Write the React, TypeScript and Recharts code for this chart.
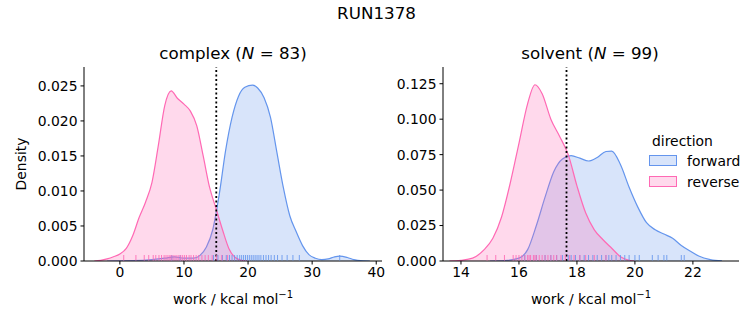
import React from "react"
import {
  Area,
  ComposedChart,
  ReferenceLine,
  Scatter,
  XAxis,
  YAxis,
} from "recharts"

// KDE curves: [work, density]
const complexForward = [
  [-2, 0], [2, 0.00005], [5, 0.0002], [7, 0.0004], [8.5, 0.0006], [10, 0.0004],
  [11.5, 0.0004], [12.5, 0.0008], [13.5, 0.002], [14.5, 0.0045], [15.5, 0.0095],
  [16.5, 0.0158], [17.5, 0.0205], [18.5, 0.0235], [19.5, 0.0248], [20.7, 0.0251],
  [21.5, 0.0247], [22.5, 0.0233], [23.5, 0.0205], [24.5, 0.0155], [25.5, 0.0105],
  [26.5, 0.0065], [27.5, 0.0042], [28.5, 0.0022], [29.5, 0.0009], [30.5, 0.0004],
  [31.5, 0.0002], [32.5, 0.0003], [33.5, 0.0006], [34.3, 0.0007], [35.5, 0.0005],
  [36.5, 0.0002], [38, 0.00003], [39, 0],
]
const complexReverse = [
  [-4, 0], [-3, 0.0001], [-2, 0.0003], [-1, 0.0006], [0, 0.001], [1, 0.0018],
  [2, 0.0036], [3, 0.0062], [4, 0.0084], [5, 0.0112], [6, 0.0165], [7, 0.0222],
  [8, 0.0243], [9, 0.0232], [10, 0.0224], [11, 0.0214], [12, 0.0193], [13, 0.015],
  [14, 0.0105], [15, 0.0075], [16, 0.0045], [17, 0.0018], [18, 0.0005],
  [19, 0.0001], [20, 0],
]
const solventForward = [
  [15.0, 0], [15.5, 0.0003], [16.0, 0.002], [16.3, 0.008], [16.6, 0.025],
  [16.9, 0.045], [17.2, 0.063], [17.5, 0.072], [17.8, 0.0743], [18.1, 0.0725],
  [18.4, 0.0705], [18.7, 0.073], [19.0, 0.0772], [19.2, 0.0775], [19.5, 0.068],
  [19.8, 0.052], [20.1, 0.038], [20.4, 0.027], [20.7, 0.022], [21.0, 0.019],
  [21.3, 0.016], [21.6, 0.011], [21.9, 0.007], [22.2, 0.0035], [22.6, 0.001],
  [23.0, 0.0001],
]
const solventReverse = [
  [13.6, 0], [14.0, 0.0005], [14.4, 0.002], [14.8, 0.008], [15.1, 0.016],
  [15.4, 0.031], [15.7, 0.055], [16.0, 0.083], [16.3, 0.111], [16.55, 0.1243],
  [16.8, 0.118], [17.1, 0.1], [17.4, 0.088], [17.7, 0.075], [18.0, 0.053],
  [18.3, 0.034], [18.6, 0.022], [18.9, 0.015], [19.2, 0.009], [19.5, 0.003],
  [19.8, 0.0005], [20.0, 0],
]

// individual work values (rug)
const complexForwardRug = [
  8.1, 9.4, 14.6, 15.3, 16.0, 16.6, 17.1, 17.5, 17.9, 18.3, 18.7, 19.0, 19.3, 19.6,
  19.9, 20.2, 20.5, 20.8, 21.1, 21.4, 21.7, 22.0, 22.4, 22.8, 23.2, 23.6, 24.1,
  24.6, 25.3, 26.1, 27.0, 28.0, 34.3,
]
const complexReverseRug = [
  0.6, 2.5, 3.8, 4.5, 5.2, 5.6, 6.1, 6.5, 6.9, 7.2, 7.5, 7.8, 8.0, 8.3, 8.6, 8.9,
  9.2, 9.5, 9.8, 10.1, 10.4, 10.8, 11.1, 11.5, 11.9, 12.3, 12.8, 13.3, 13.8, 14.4,
  15.1, 15.9, 16.8,
]
const solventForwardRug = [
  16.2, 16.6, 16.9, 17.1, 17.3, 17.5, 17.7, 17.8, 17.95, 18.1, 18.25, 18.4, 18.55,
  18.7, 18.85, 19.0, 19.1, 19.2, 19.35, 19.5, 19.65, 19.8, 20.0, 20.15, 20.6, 20.8,
  21.0, 21.1, 21.6, 21.7,
]
const solventReverseRug = [
  14.9, 15.2, 15.5, 15.8, 15.9, 16.0, 16.1, 16.2, 16.3, 16.35, 16.4, 16.5, 16.55,
  16.6, 16.7, 16.8, 16.9, 17.0, 17.1, 17.2, 17.3, 17.45, 17.6, 17.75, 17.9, 18.1,
  18.3, 18.6, 19.0,
]

const complexXTicks = [0, 10, 20, 30, 40]
const complexYTicks = [0, 0.005, 0.01, 0.015, 0.02, 0.025]
const solventXTicks = [14, 16, 18, 20, 22]
const solventYTicks = [0, 0.025, 0.05, 0.075, 0.1, 0.125]

const directions = ["forward", "reverse"]
const colors: Record<string, string> = { forward: "#6495ED", reverse: "#FF69B4" }

const FONT = "'DejaVu Sans', sans-serif"
const tickStyle = { fontSize: 13.9, fill: "#000", fontFamily: FONT }

const toCurve = (pts: number[][]) => pts.map(([x, d]) => ({ x, d }))
const toRug = (vals: number[]) => vals.map((x) => ({ x, d: 0 }))

const rugShape = (color: string) => (props: any) => {
  const { cx, cy } = props
  return (
    <line x1={cx} x2={cx} y1={cy - 0.5} y2={cy - 6} stroke={color} strokeOpacity={0.85} strokeWidth={1} />
  )
}

const xLabel = (props: any) => {
  const { viewBox } = props
  const cx = viewBox.x + viewBox.width / 2
  return (
    <text x={cx} y={304} textAnchor="middle" fontSize={13.9} fontFamily={FONT} fill="#000">
      work / kcal mol
      <tspan dy={-6} fontSize={10}>−1</tspan>
    </text>
  )
}

function Panel(props: {
  left: number
  width: number
  margin: { top: number; right: number; bottom: number; left: number }
  xDomain: number[]
  xTicks: number[]
  yDomain: number[]
  yTicks: number[]
  forward: number[][]
  reverse: number[][]
  forwardRug: number[]
  reverseRug: number[]
  refX: number
  showYLabel: boolean
}) {
  const curves: Record<string, number[][]> = { forward: props.forward, reverse: props.reverse }
  const rugs: Record<string, number[]> = { forward: props.forwardRug, reverse: props.reverseRug }
  return (
    <div style={{ position: "absolute", left: props.left, top: 0 }}>
      <ComposedChart width={props.width} height={325} margin={props.margin}>
        <XAxis
          type="number"
          dataKey="x"
          domain={props.xDomain}
          ticks={props.xTicks}
          allowDataOverflow
          height={40}
          tick={tickStyle}
          tickSize={3.5}
          tickMargin={3}
          stroke="#000"
          axisLine={{ stroke: "#000", strokeWidth: 1 }}
          tickLine={{ stroke: "#000", strokeWidth: 1 }}
          label={{ content: xLabel }}
        />
        <YAxis
          type="number"
          dataKey="d"
          domain={props.yDomain}
          ticks={props.yTicks}
          allowDataOverflow
          width={60}
          tick={tickStyle}
          tickSize={3.5}
          tickMargin={3}
          tickFormatter={(v: number) => v.toFixed(3)}
          stroke="#000"
          axisLine={{ stroke: "#000", strokeWidth: 1 }}
          tickLine={{ stroke: "#000", strokeWidth: 1 }}
          label={
            props.showYLabel
              ? {
                  content: () => (
                    <text
                      x={26}
                      y={164}
                      transform="rotate(-90 26 164)"
                      textAnchor="middle"
                      fontSize={13.9}
                      fontFamily={FONT}
                      fill="#000"
                    >
                      Density
                    </text>
                  ),
                }
              : undefined
          }
        />
        {directions.map((dir) => (
          <Area
            key={dir}
            data={toCurve(curves[dir])}
            dataKey="d"
            type="monotone"
            stroke={colors[dir]}
            strokeWidth={1.2}
            fill={colors[dir]}
            fillOpacity={0.25}
            isAnimationActive={false}
            dot={false}
            activeDot={false}
          />
        ))}
        {directions.map((dir) => (
          <Scatter
            key={dir + "-rug"}
            data={toRug(rugs[dir])}
            dataKey="d"
            shape={rugShape(colors[dir])}
            isAnimationActive={false}
          />
        ))}
        <ReferenceLine x={props.refX} stroke="#000" strokeWidth={1.8} strokeDasharray="2 2.5" />
      </ComposedChart>
    </div>
  )
}

export default function App() {
  const title = (text: string, n: number, cx: number) => (
    <div
      style={{
        position: "absolute",
        left: cx - 150,
        width: 300,
        top: 43,
        textAlign: "center",
        fontSize: 16.7,
        fontFamily: FONT,
        lineHeight: "20px",
      }}
    >
      {text} (<i>N</i> = {n})
    </div>
  )
  return (
    <div
      style={{
        position: "absolute",
        left: 0,
        top: 0,
        width: 753,
        height: 325,
        background: "#fff",
        fontFamily: FONT,
        overflow: "hidden",
      }}
    >
      <Panel
        left={0}
        width={400}
        margin={{ top: 67, right: 18, bottom: 24, left: 24 }}
        xDomain={[-5.6, 40.9]}
        xTicks={complexXTicks}
        yDomain={[0, 0.0277]}
        yTicks={complexYTicks}
        forward={complexForward}
        reverse={complexReverse}
        forwardRug={complexForwardRug}
        reverseRug={complexReverseRug}
        refX={15.04}
        showYLabel
      />
      <Panel
        left={380}
        width={373}
        margin={{ top: 67, right: 14, bottom: 24, left: 3 }}
        xDomain={[13.38, 23.59]}
        xTicks={solventXTicks}
        yDomain={[0, 0.1368]}
        yTicks={solventYTicks}
        forward={solventForward}
        reverse={solventReverse}
        forwardRug={solventForwardRug}
        reverseRug={solventReverseRug}
        refX={17.64}
        showYLabel={false}
      />
      <div
        style={{
          position: "absolute",
          left: 0,
          width: 753,
          top: 3,
          textAlign: "center",
          fontSize: 16.7,
          lineHeight: "20px",
        }}
      >
        RUN1378
      </div>
      {title("complex", 83, 233)}
      {title("solvent", 99, 590)}
      <div style={{ position: "absolute", left: 640, top: 132, width: 110, fontSize: 13.9 }}>
        <div style={{ lineHeight: "18px", marginLeft: 12 }}>direction</div>
        {directions.map((dir) => (
          <div key={dir} style={{ display: "flex", alignItems: "center", height: 21 }}>
            <span
              style={{
                display: "inline-block",
                width: 26,
                height: 9,
                marginLeft: 9,
                marginRight: 10,
                border: `1px solid ${colors[dir]}`,
                background: colors[dir] + "40",
              }}
            />
            <span>{dir}</span>
          </div>
        ))}
      </div>
    </div>
  )
}
